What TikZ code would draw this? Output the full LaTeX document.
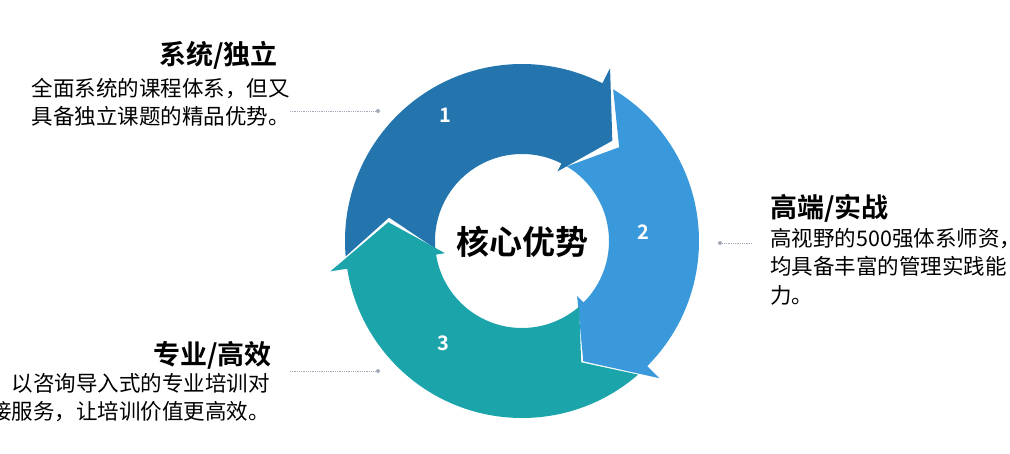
\documentclass[tikz,border=0pt]{standalone}
\usepackage{fontspec}
\setmainfont{Noto Sans CJK SC}[BoldFont={Noto Sans CJK SC Bold}]
\usetikzlibrary{positioning}
\definecolor{segone}{HTML}{2474AE}
\definecolor{segtwo}{HTML}{3A99DA}
\definecolor{segthree}{HTML}{1BA5AA}
\definecolor{leader}{HTML}{A3AAB8}

% ring segment: start angle, back of head, tip angle, colour
\newcommand{\ringseg}[4]{%
    \fill[#4] (#1:177) arc[start angle=#1, end angle=#2, radius=177]
        -- (#2:194) -- (#3:135) -- (#2:78) -- (#2:87)
        arc[start angle=#2, end angle=#1, radius=87]
        -- ({#1-15}:135) -- cycle;
}

\begin{document}
\begin{tikzpicture}[x=1pt, y=1pt,
    head/.style={font=\bfseries\fontsize{27}{30}\selectfont, inner sep=0pt},
    body/.style={font=\fontsize{21.5}{28.5}\selectfont, inner sep=0pt},
    num/.style={text=white, font=\bfseries\fontsize{20}{22}\selectfont},
    dot/.style={circle, fill=leader, inner sep=0pt, minimum size=4pt},
    lead/.style={leader, densely dotted, line width=0.8pt}]
    \useasboundingbox (0,0) rectangle (1010,453);

    \begin{scope}[shift={(522,212)}]
        \ringseg{185}{63}{48}{segone}
        \ringseg{59}{-45}{-63}{segtwo}
        \ringseg{-49}{-171}{-188}{segthree}
    \end{scope}

    \node[num] (n1) at (445,338) {1};
    \node[num] (n2) at (643,221) {2};
    \node[num] (n3) at (443,110) {3};
    \node[font=\bfseries\fontsize{33}{35}\selectfont] (core) at (522,211) {核心优势};

    % left top
    \node[head, anchor=east] (h1) at (278,398) {系统/独立};
    \node[body, anchor=north east, align=right] (b1) at (290,375)
        {全面系统的课程体系，但又\\具备独立课题的精品优势。};
    \node[dot] (d1) at (378,342) {};
    \coordinate (l1) at (290,342);
    \draw[lead] (l1) -- (d1);

    % right
    \node[head, anchor=west] (h2) at (770,245) {高端/实战};
    \node[body, anchor=north west, align=left] (b2) at (770,225)
        {高视野的500强体系师资，\\均具备丰富的管理实践能\\力。};
    \node[dot] (d2) at (720,210) {};
    \coordinate (l2) at (752,210);
    \draw[lead] (d2) -- (l2);

    % left bottom
    \node[head, anchor=east] (h3) at (272,98) {专业/高效};
    \node[body, anchor=north east, align=right] (b3) at (270,80)
        {以咨询导入式的专业培训对\\接服务，让培训价值更高效。};
    \node[dot] (d3) at (378,82) {};
    \coordinate (l3) at (290,82);
    \draw[lead] (l3) -- (d3);
\end{tikzpicture}
\end{document}
